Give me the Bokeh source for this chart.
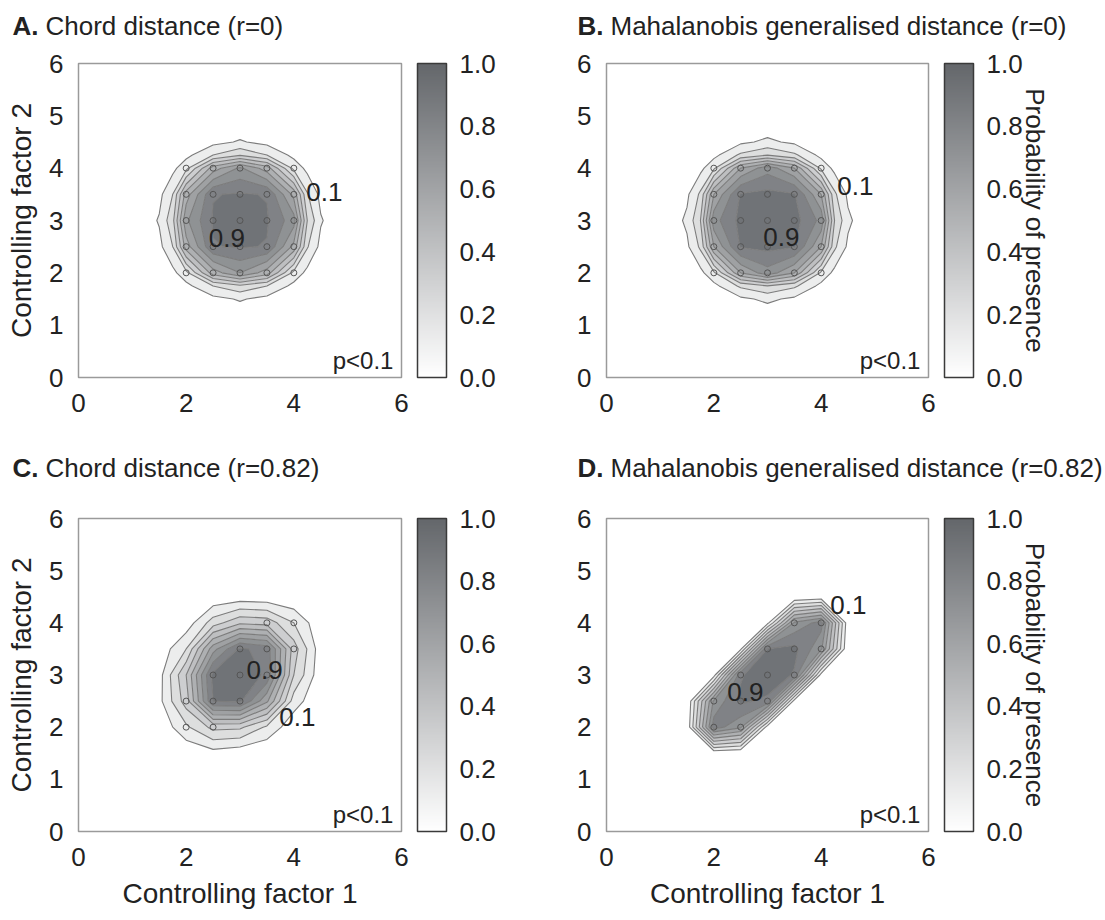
import numpy as np
from bokeh.plotting import figure
from bokeh.layouts import column, row
from bokeh.models import (ColorBar, LinearColorMapper, FixedTicker, PrintfTickFormatter,
                          Label, Range1d, LinearAxis)
from bokeh.core.properties import value
from bokeh.embed import file_html
from bokeh.resources import INLINE

# ---------------- data ----------------
contour_levels = [0.1, 0.2, 0.3, 0.4, 0.5, 0.6, 0.7, 0.8, 0.9, 1.0]

# grid for panels A and B (r = 0); rows follow grid_ab_y, columns grid_ab_x
grid_ab_x = [1.0, 1.5, 1.75, 2.0, 2.5, 3.0, 3.5, 4.0, 4.25, 4.5, 5.0]
grid_ab_y = [1.0, 1.5, 1.75, 2.0, 2.5, 3.0, 3.5, 4.0, 4.25, 4.5, 5.0]

prob_a = [
    [0, 0,    0,    0,    0,     0,    0,     0,    0,    0,    0],
    [0, 0,    0,    0,    0.07,  0.11, 0.07,  0,    0,    0,    0],
    [0, 0,    0,    0.07, 0.20,  0.28, 0.20,  0.07, 0,    0,    0],
    [0, 0,    0.07, 0.17, 0.55,  0.70, 0.55,  0.17, 0.07, 0,    0],
    [0, 0.07, 0.20, 0.55, 0.895, 0.91, 0.895, 0.57, 0.21, 0.07, 0],
    [0, 0.11, 0.27, 0.68, 0.91,  0.97, 0.91,  0.74, 0.30, 0.11, 0],
    [0, 0.07, 0.20, 0.55, 0.895, 0.91, 0.895, 0.57, 0.21, 0.07, 0],
    [0, 0,    0.07, 0.17, 0.55,  0.72, 0.55,  0.17, 0.07, 0,    0],
    [0, 0,    0,    0.07, 0.20,  0.29, 0.20,  0.07, 0,    0,    0],
    [0, 0,    0,    0,    0.07,  0.11, 0.07,  0,    0,    0,    0],
    [0, 0,    0,    0,    0,     0,    0,     0,    0,    0,    0],
]
prob_b = [
    [0, 0,    0,    0,    0,    0,    0,    0,    0,    0,    0],
    [0, 0,    0,    0,    0.08, 0.12, 0.08, 0,    0,    0,    0],
    [0, 0,    0,    0.07, 0.22, 0.30, 0.22, 0.07, 0,    0,    0],
    [0, 0,    0.07, 0.18, 0.60, 0.76, 0.60, 0.18, 0.07, 0,    0],
    [0, 0.08, 0.22, 0.60, 0.91, 0.93, 0.91, 0.60, 0.22, 0.08, 0],
    [0, 0.12, 0.30, 0.76, 0.93, 0.99, 0.94, 0.77, 0.30, 0.12, 0],
    [0, 0.08, 0.22, 0.60, 0.91, 0.93, 0.91, 0.60, 0.22, 0.08, 0],
    [0, 0,    0.07, 0.18, 0.60, 0.76, 0.60, 0.18, 0.07, 0,    0],
    [0, 0,    0,    0.07, 0.22, 0.30, 0.22, 0.07, 0,    0,    0],
    [0, 0,    0,    0,    0.08, 0.12, 0.08, 0,    0,    0,    0],
    [0, 0,    0,    0,    0,    0,    0,    0,    0,    0,    0],
]

# grid for panels C and D (r = 0.82)
grid_cd_x = [1.0, 1.5, 2.0, 2.5, 3.0, 3.5, 4.0, 4.5, 5.0]
grid_cd_y = [1.0, 1.5, 2.0, 2.5, 3.0, 3.5, 4.0, 4.5, 5.0]

prob_c = [
    [0, 0,    0,    0,    0,    0,    0,    0,    0],
    [0, 0,    0.02, 0.06, 0.03, 0.01, 0,    0,    0],
    [0, 0.02, 0.18, 0.33, 0.32, 0.18, 0.03, 0,    0],
    [0, 0.07, 0.35, 0.90, 0.92, 0.62, 0.15, 0.01, 0],
    [0, 0.06, 0.40, 0.93, 0.98, 0.88, 0.30, 0.03, 0],
    [0, 0.03, 0.20, 0.66, 0.92, 0.86, 0.35, 0.04, 0],
    [0, 0,    0.04, 0.25, 0.38, 0.36, 0.20, 0.02, 0],
    [0, 0,    0,    0.02, 0.04, 0.03, 0.01, 0,    0],
    [0, 0,    0,    0,    0,    0,    0,    0,    0],
]
prob_d = [
    [0, 0,    0,    0,    0,    0,    0,    0,    0],
    [0, 0,    0.02, 0,    0,    0,    0,    0,    0],
    [0, 0.02, 0.85, 0.72, 0.05, 0,    0,    0,    0],
    [0, 0,    0.72, 0.92, 0.88, 0.06, 0,    0,    0],
    [0, 0,    0.06, 0.89, 0.97, 0.89, 0.06, 0,    0],
    [0, 0,    0,    0.08, 0.90, 0.93, 0.72, 0,    0],
    [0, 0,    0,    0,    0.07, 0.72, 0.84, 0.03, 0],
    [0, 0,    0,    0,    0,    0,    0.03, 0,    0],
    [0, 0,    0,    0,    0,    0,    0,    0,    0],
]

# sampled locations (small circles)
pts_r0_x = [2, 2.5, 3, 3.5, 4, 2, 2.5, 3, 3.5, 4, 2, 2.5, 3, 3.5, 4, 2, 2.5, 3, 3.5, 4, 2, 2.5, 3, 3.5, 4]
pts_r0_y = [2, 2, 2, 2, 2, 2.5, 2.5, 2.5, 2.5, 2.5, 3, 3, 3, 3, 3, 3.5, 3.5, 3.5, 3.5, 3.5, 4, 4, 4, 4, 4]
pts_r82_x = [2, 2.5, 2, 2.5, 3, 2.5, 3, 3.5, 3, 3.5, 4, 3.5, 4]
pts_r82_y = [2, 2, 2.5, 2.5, 2.5, 3, 3, 3, 3.5, 3.5, 3.5, 4, 4]

x_ticks = [0, 2, 4, 6]
y_ticks = [0, 1, 2, 3, 4, 5, 6]
cbar_ticks = [0.0, 0.2, 0.4, 0.6, 0.8, 1.0]

panel_letters = ["A.", "B.", "C.", "D."]
panel_titles = ["Chord distance (r=0)", "Mahalanobis generalised distance (r=0)",
                "Chord distance (r=0.82)", "Mahalanobis generalised distance (r=0.82)"]
x_label = "Controlling factor 1"
y_label = "Controlling factor 2"
cbar_label = "Probability of presence"
p_note = "p<0.1"

# ---------------- style ----------------
FONT = "Liberation Sans"
TXT = "#222222"
DARK = (100, 103, 107)
TICK_PX = "26px"


def shade(v):
    r = int(round(255 - v * (255 - DARK[0])))
    g = int(round(255 - v * (255 - DARK[1])))
    b = int(round(255 - v * (255 - DARK[2])))
    return "#%02x%02x%02x" % (r, g, b)


cbar_palette = [shade(i / 255) for i in range(256)]
band_colors = [shade(lv + 0.02) for lv in contour_levels[:-1]]


def title_strip(width, height, items):
    t = figure(width=width, height=height, x_range=Range1d(0, width), y_range=Range1d(0, height),
               x_axis_type=None, y_axis_type=None, min_border=0, outline_line_color=None,
               toolbar_location=None, output_backend="svg")
    t.grid.visible = False
    for (x0, y0, letter, text) in items:
        t.text(x=[x0], y=[y0], text=[letter], text_font=value(FONT),
               text_font_size=value("26px"), text_font_style=value("bold"),
               text_color=TXT, text_baseline="middle")
        t.text(x=[x0 + 33], y=[y0], text=[text], text_font=value(FONT),
               text_font_size=value("26px"), text_color=TXT, text_baseline="middle")
    return t


def blank_axis(**kw):
    return LinearAxis(axis_line_color=None, major_tick_in=0, minor_tick_out=0, minor_tick_in=0,
                      major_tick_line_color=None, minor_tick_line_color=None, **kw)


def make_panel(gx, gy, z, px, py, labels01, labels09, *, left, top, fw, fh,
               right, bottom, show_ylab, show_xlab, show_cbar_label):
    p = figure(frame_width=fw, frame_height=fh,
               x_range=Range1d(0, 6), y_range=Range1d(0, 6),
               output_backend="svg", toolbar_location=None,
               min_border_left=left, min_border_right=right,
               min_border_top=top, min_border_bottom=bottom,
               background_fill_color="white", border_fill_color="white")
    p.grid.visible = False
    p.outline_line_color = "#9a9a9a"
    p.outline_line_width = 1.5

    for ax in (p.xaxis[0], p.yaxis[0]):
        ax.axis_line_color = None
        ax.major_tick_line_color = None
        ax.minor_tick_line_color = None
        ax.major_label_text_font = FONT
        ax.major_label_text_font_size = TICK_PX
        ax.major_label_text_color = TXT
        ax.axis_label_text_font = FONT
        ax.axis_label_text_font_size = "28px"
        ax.axis_label_text_font_style = "normal"
        ax.axis_label_text_color = TXT
    p.xaxis.ticker = FixedTicker(ticks=x_ticks)
    p.yaxis.ticker = FixedTicker(ticks=y_ticks)
    p.xaxis.major_label_standoff = 10
    p.yaxis.major_label_standoff = 9
    if show_ylab:
        p.yaxis.axis_label = y_label
        p.yaxis.axis_label_standoff = 9
    if show_xlab:
        p.xaxis.axis_label = x_label
        p.xaxis.axis_label_standoff = 9

    zz = np.array(z, dtype=float)
    p.contour(gx, gy, zz, contour_levels,
              fill_color=band_colors, line_color="#7c7c7c", line_width=1.1)
    p.scatter(px, py, size=6, marker="circle", fill_color=None,
              line_color="#555555", line_width=1)

    # spacer between the frame and the colour bar
    spacer = blank_axis(ticker=FixedTicker(ticks=[3]), major_tick_out=16,
                        major_label_standoff=0, major_label_overrides={3: ""},
                        major_label_text_font_size="1px", major_label_text_color=None)
    p.add_layout(spacer, "right")

    mapper = LinearColorMapper(palette=cbar_palette, low=0, high=1)
    cb = ColorBar(color_mapper=mapper, ticker=FixedTicker(ticks=cbar_ticks),
                  formatter=PrintfTickFormatter(format="%.1f"),
                  width=29, height=fh, padding=0, margin=0,
                  label_standoff=13,
                  major_label_text_font=FONT, major_label_text_font_size=TICK_PX,
                  major_label_text_color=TXT,
                  major_tick_line_color=None, minor_tick_line_color=None,
                  bar_line_color="#3a3a3a", bar_line_width=1.5,
                  background_fill_color=None, border_line_color=None)
    p.add_layout(cb, "right")

    if show_cbar_label:
        lab = blank_axis(ticker=FixedTicker(ticks=[]), major_tick_out=0,
                         major_label_standoff=0, major_label_text_font_size="0px",
                         axis_label=cbar_label, axis_label_standoff=-6,
                         axis_label_text_font=FONT, axis_label_text_font_size="26px",
                         axis_label_text_font_style="normal", axis_label_text_color=TXT)
        p.add_layout(lab, "right")

    for (lx, ly), txt in ((labels01, "0.1"), (labels09, "0.9")):
        p.add_layout(Label(x=lx, y=ly, text=txt, text_font=FONT, text_font_size="26px",
                           text_color=TXT, text_baseline="middle"))
    p.add_layout(Label(x=5.85, y=0.32, text=p_note, text_font=FONT, text_font_size="24px",
                       text_color=TXT, text_align="right", text_baseline="alphabetic"))
    return p


title_top = title_strip(1105, 50, [(12, 25, panel_letters[0], panel_titles[0]),
                                   (577, 25, panel_letters[1], panel_titles[1])])
title_bot = title_strip(1105, 50, [(12, 23, panel_letters[2], panel_titles[2]),
                                   (577, 23, panel_letters[3], panel_titles[3])])

pa = make_panel(grid_ab_x, grid_ab_y, prob_a, pts_r0_x, pts_r0_y, (4.23, 3.55), (2.42, 2.66),
                left=78, top=13, fw=323, fh=314, right=159, bottom=63,
                show_ylab=True, show_xlab=False, show_cbar_label=False)
pb = make_panel(grid_ab_x, grid_ab_y, prob_b, pts_r0_x, pts_r0_y, (4.30, 3.65), (2.92, 2.69),
                left=46, top=13, fw=322, fh=314, right=177, bottom=63,
                show_ylab=False, show_xlab=False, show_cbar_label=True)
pc = make_panel(grid_cd_x, grid_cd_y, prob_c, pts_r82_x, pts_r82_y, (3.73, 2.19), (3.12, 3.10),
                left=78, top=28, fw=323, fh=313, right=159, bottom=89,
                show_ylab=True, show_xlab=True, show_cbar_label=False)
pd_ = make_panel(grid_cd_x, grid_cd_y, prob_d, pts_r82_x, pts_r82_y, (4.17, 4.35), (2.25, 2.68),
                 left=46, top=28, fw=322, fh=313, right=177, bottom=89,
                 show_ylab=False, show_xlab=True, show_cbar_label=True)

layout = column(title_top, row(pa, pb), title_bot, row(pc, pd_))
open("out.html", "w").write(file_html(layout, INLINE))
